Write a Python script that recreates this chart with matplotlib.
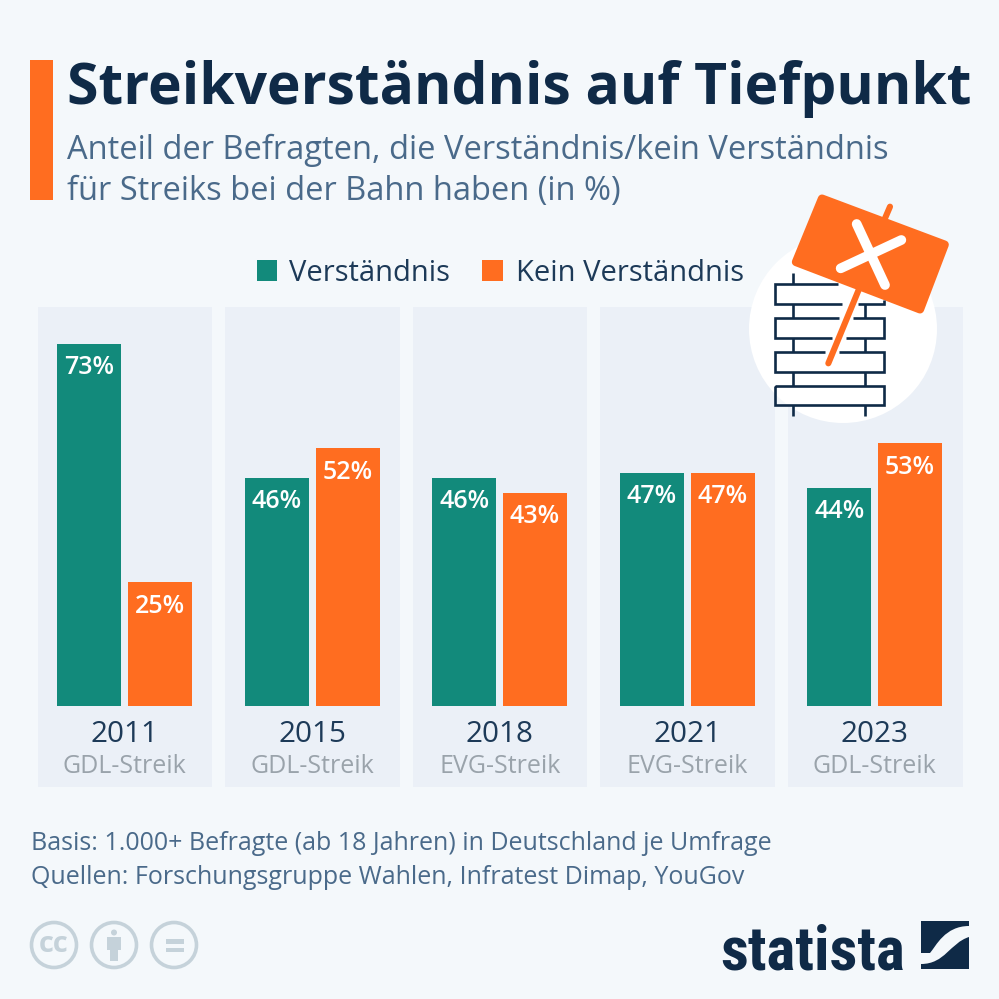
# -*- coding: utf-8 -*-
"""Streikverständnis auf Tiefpunkt - Statista-Grafik nachgebaut."""

import matplotlib
matplotlib.use("Agg")
import matplotlib.pyplot as plt
from matplotlib.patches import Circle, PathPatch, Polygon, Rectangle
from matplotlib.path import Path
import numpy as np

JAHRE = ["2011", "2015", "2018", "2021", "2023"]
STREIKS = ["GDL-Streik", "GDL-Streik", "EVG-Streik", "EVG-Streik", "GDL-Streik"]
VERSTAENDNIS = [73, 46, 46, 47, 44]
KEIN_VERSTAENDNIS = [25, 52, 43, 47, 53]

HINTERGRUND = "#f4f8fb"
PANEL = "#ebf0f7"
GRUEN = "#128a7b"
ORANGE = "#ff6d20"
NAVY = "#0f2a47"
BLAUGRAU = "#4a6a8a"
GRAU = "#9aa3ab"
CC_GRAU = "#c5d2da"
SCHRIFT = ["Open Sans", "DejaVu Sans"]

plt.rcParams["font.family"] = SCHRIFT

fig = plt.figure(figsize=(9.99, 9.99), dpi=100, facecolor=HINTERGRUND)

# Pixel-Achse für alles Dekorative (y nach unten wie im Bild)
pix = fig.add_axes([0, 0, 1, 1], zorder=0)
pix.set_xlim(0, 999)
pix.set_ylim(999, 0)
pix.axis("off")

# Kopf
pix.add_patch(Rectangle((30, 60), 23, 140, color=ORANGE, lw=0))
pix.text(67, 104, "Streikverständnis auf Tiefpunkt", fontsize=41, weight="bold",
         color=NAVY, va="baseline")
pix.text(67, 159, "Anteil der Befragten, die Verständnis/kein Verständnis",
         fontsize=23.5, color=BLAUGRAU, va="baseline")
pix.text(67, 200, "für Streiks bei der Bahn haben (in %)",
         fontsize=23.5, color=BLAUGRAU, va="baseline")

# Legende
pix.add_patch(Rectangle((257, 260), 20, 21, color=GRUEN, lw=0))
pix.text(289, 281, "Verständnis", fontsize=21, color="#1d3a58", va="baseline")
pix.add_patch(Rectangle((482, 260), 21, 21, color=ORANGE, lw=0))
pix.text(516, 281, "Kein Verständnis", fontsize=21, color="#1d3a58", va="baseline")

# Panels hinter den Balken
panel_kanten = [(38, 212), (225, 400), (413, 587), (600, 775), (788, 963)]
for links, rechts in panel_kanten:
    pix.add_patch(Rectangle((links, 307), rechts - links, 480, color=PANEL, lw=0))

# --- Balken -----------------------------------------------------------------
# Achse: unten Grundlinie bei y=706, 4.96 px je Prozentpunkt
ax = fig.add_axes([38 / 999, 1 - 706 / 999, 925 / 999, 399 / 999], zorder=1)
ax.patch.set_alpha(0)
ax.set_ylim(0, 399 / 4.96)
ax.set_xlim((38 - 124.7) / 187.5, (963 - 124.7) / 187.5)
ax.axis("off")

x = np.arange(len(JAHRE))
breite = 64 / 187.5
versatz = 35.3 / 187.5
for pos, werte, farbe in ((x - versatz, VERSTAENDNIS, GRUEN),
                          (x + versatz, KEIN_VERSTAENDNIS, ORANGE)):
    ax.bar(pos, werte, width=breite, color=farbe, linewidth=0)
    for xv, v in zip(pos, werte):
        ax.annotate(f"{v}%", (xv, v), xytext=(0, -17.3), textcoords="offset points",
                    ha="center", va="center", color="white", fontsize=18,
                    weight="semibold")

for i, (jahr, streik) in enumerate(zip(JAHRE, STREIKS)):
    ax.annotate(jahr, (i, 0), xytext=(0, -20.3), textcoords="offset points",
                ha="center", va="center", fontsize=21.3, color="#1d3a58",
                annotation_clip=False)
    ax.annotate(streik, (i, 0), xytext=(0, -43.3), textcoords="offset points",
                ha="center", va="center", fontsize=18, color=GRAU,
                annotation_clip=False)

# Fußzeile
pix.text(31, 850, "Basis: 1.000+ Befragte (ab 18 Jahren) in Deutschland je Umfrage",
         fontsize=17.98, color=BLAUGRAU, va="baseline")
pix.text(31, 884, "Quellen: Forschungsgruppe Wahlen, Infratest Dimap, YouGov",
         fontsize=17.98, color=BLAUGRAU, va="baseline")


# --- Icon (Koordinaten aus dem Zoom-Ausschnitt, 3x ab 740/190) ---------------
def z(zx, zy):
    return 740 + zx / 3, 190 + zy / 3


def linie(z_punkte, farbe=NAVY, lw=1.9, cap="butt"):
    xs, ys = zip(*[z(*p) for p in z_punkte])
    pix.plot(xs, ys, color=farbe, lw=lw, solid_capstyle=cap, solid_joinstyle="miter")


pix.add_patch(Circle((843, 329), 94, color="white", lw=0))

# Mauer
for zx in (160, 376):
    for y0, y1 in ((342, 385), (443, 485), (545, 587), (645, 678)):
        linie([(zx, y0), (zx, y1)])
linie([(160, 250), (160, 283)])
linie([(295, 283), (105, 283), (105, 342), (305, 342)])
linie([(355, 342), (432, 342), (432, 330)])
linie([(298, 385), (105, 385), (105, 443), (275, 443)])
linie([(340, 385), (432, 385), (432, 443), (318, 443)])
linie([(255, 485), (105, 485), (105, 545), (432, 545), (432, 485), (298, 485)])
linie([(105, 587), (432, 587), (432, 645), (105, 645), (105, 587)])

# Schild
linie([(360, 290), (265, 520)], ORANGE, 4.4, "round")
linie([(450, 50), (435, 85)], ORANGE, 4.4, "round")
ecken = [z(246, 26), z(614, 164), z(540, 358), z(168, 216)]
pix.add_patch(Polygon(ecken, closed=True, facecolor=ORANGE, edgecolor=ORANGE,
                      lw=6, joinstyle="round"))
linie([(350, 102), (435, 285)], "white", 7, "round")
linie([(302, 235), (484, 150)], "white", 7, "round")

# CC-Icons
for cx in (54, 114, 174):
    pix.add_patch(Circle((cx, 945), 22.5, facecolor="none", edgecolor=CC_GRAU, lw=2.6))
pix.text(54, 944.5, "cc", fontsize=21, weight="bold", color=CC_GRAU,
         ha="center", va="center")
pix.add_patch(Circle((114, 932.5), 3, color=CC_GRAU, lw=0))
pix.add_patch(Polygon([(107, 937), (121, 937), (121, 950), (118, 950), (118, 961),
                       (110, 961), (110, 950), (107, 950)], color=CC_GRAU, lw=0))
pix.add_patch(Rectangle((166, 939), 18, 4.5, color=CC_GRAU, lw=0))
pix.add_patch(Rectangle((166, 947.5), 18, 4.5, color=CC_GRAU, lw=0))

# Statista-Logo
pix.text(720, 969, "statista", fontsize=44, stretch="condensed",
         family=["Roboto Condensed", "Open Sans Condensed", "Noto Sans Condensed",
                 "DejaVu Sans Condensed", "Liberation Sans Narrow", "Open Sans"],
         weight="bold", color=NAVY, va="baseline")
oben = Path([(921, 921), (969, 921), (969, 926), (945, 926), (936, 946), (930, 953),
             (921, 953), (921, 921)],
            [Path.MOVETO, Path.LINETO, Path.LINETO, Path.CURVE4, Path.CURVE4, Path.CURVE4,
             Path.LINETO, Path.CLOSEPOLY])
unten = Path([(969, 937), (969, 969), (921, 969), (921, 964), (945, 964), (950, 943),
              (969, 937), (969, 937)],
             [Path.MOVETO, Path.LINETO, Path.LINETO, Path.LINETO, Path.CURVE4, Path.CURVE4,
              Path.CURVE4, Path.CLOSEPOLY])
pix.add_patch(PathPatch(oben, facecolor=NAVY, lw=0))
pix.add_patch(PathPatch(unten, facecolor=NAVY, lw=0))

fig.savefig("out.png", dpi=100, facecolor=HINTERGRUND)
